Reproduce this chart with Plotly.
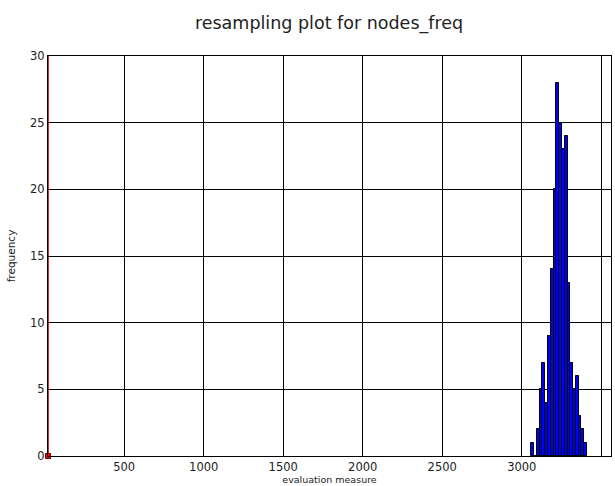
import plotly.graph_objects as go

# Histogram data
bin_lefts = [3060, 3077.5, 3095, 3112.5, 3130, 3147.5, 3165, 3182.5, 3200, 3217.5,
             3235, 3252.5, 3270, 3287.5, 3305, 3322.5, 3340, 3357.5, 3375, 3392.5]
bin_width = 17.5
counts = [1, 0, 2, 5, 7, 4, 9, 14, 20, 28, 25, 23, 24, 13, 7, 5, 6, 3, 2, 1]
observed_value = 21
x_ticks = [500, 1000, 1500, 2000, 2500, 3000, 3500]
y_ticks = [0, 5, 10, 15, 20, 25, 30]
x_range = [21, 3561]
y_range = [0, 30]

FONT = "DejaVu Sans"

fig = go.Figure()
fig.add_trace(go.Bar(
    x=[b + bin_width / 2 for b in bin_lefts],
    y=counts,
    width=bin_width,
    marker=dict(color="#0000ff", line=dict(color="black", width=1)),
    showlegend=False,
))
fig.add_trace(go.Scatter(
    x=[observed_value, observed_value],
    y=[y_range[0], y_range[1]],
    mode="lines",
    line=dict(color="#e02a2a", width=2),
    cliponaxis=False,
    showlegend=False,
))
fig.add_trace(go.Scatter(
    x=[observed_value],
    y=[0],
    mode="markers",
    marker=dict(symbol="square", size=5, color="red", line=dict(color="#600", width=1)),
    cliponaxis=False,
    showlegend=False,
))

fig.update_layout(
    width=615, height=486,
    margin=dict(l=48, r=4, t=56, b=30),
    paper_bgcolor="white", plot_bgcolor="white",
    bargap=0,
    font=dict(family=FONT, color="#222"),
    title=dict(text="resampling plot for nodes_freq", x=0.535, xanchor="center",
               y=1 - 23 / 486, yanchor="middle", font=dict(size=17.5, family=FONT, color="#222")),
)
fig.update_xaxes(
    range=x_range, tickvals=x_ticks, ticktext=[str(v) for v in x_ticks],
    showgrid=True, gridcolor="black", gridwidth=1,
    showline=True, linecolor="black", linewidth=1, mirror=True,
    ticks="inside", ticklen=4, tickcolor="black", zeroline=False,
    tickfont=dict(size=11.5, family=FONT, color="#222"),
    title=dict(text="evaluation measure", font=dict(size=9.5, family=FONT, color="#222"), standoff=2),
)
fig.update_yaxes(
    range=y_range, tickvals=y_ticks, ticktext=[str(v) for v in y_ticks],
    showgrid=True, gridcolor="black", gridwidth=1,
    showline=True, linecolor="black", linewidth=1, mirror=True,
    ticks="inside", ticklen=4, tickcolor="black", zeroline=False,
    tickfont=dict(size=11.5, family=FONT, color="#222"),
    title=dict(text="frequency", font=dict(size=10.5, family=FONT, color="#222"), standoff=12),
)

fig.write_html("out.html")
